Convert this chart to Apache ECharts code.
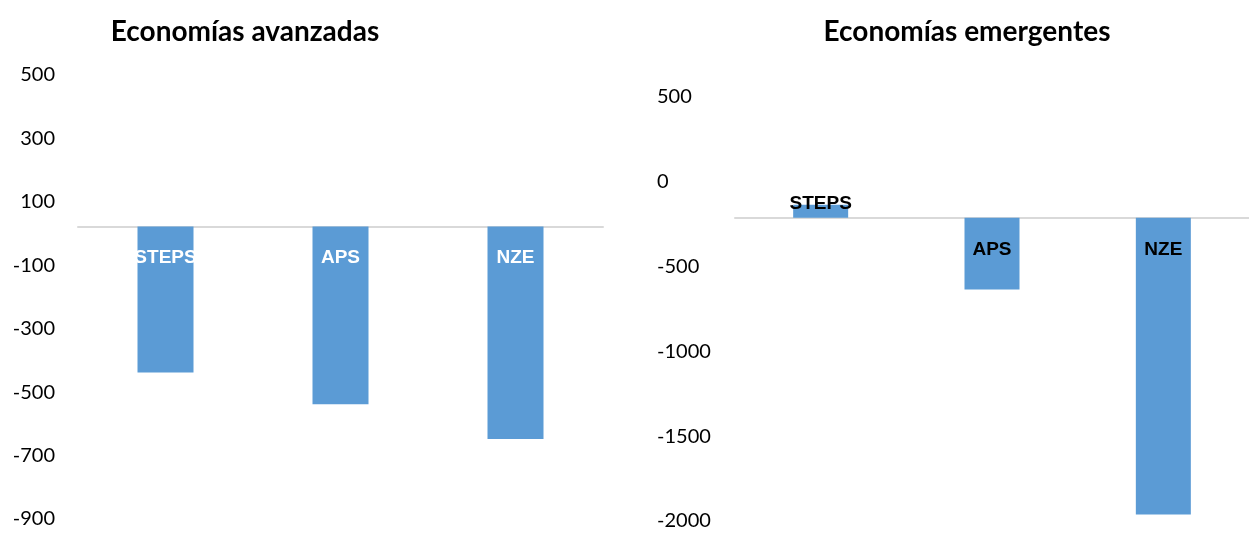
<!DOCTYPE html>
<html>
<head>
<meta charset="utf-8">
<script src="https://cdn.jsdelivr.net/npm/echarts@6/dist/echarts.min.js"></script>
<style>
  html, body { margin: 0; padding: 0; background: #fff; }
  #main { width: 1249px; height: 542px; }
</style>
</head>
<body>
<div id="main"></div>
<script>
// DATA ---------------------------------------------------------------
var categories = ['STEPS', 'APS', 'NZE'];
var advancedValues = [-460, -560, -670];
var emergingValues = [84, -465, -1920];
var advancedTicks = [500, 300, 100, -100, -300, -500, -700, -900];
var emergingTicks = [500, 0, -500, -1000, -1500, -2000];
var titles = ['Economías avanzadas', 'Economías emergentes'];

var BAR_COLOR = '#5b9bd5';
var LABEL_FONT = '"Liberation Sans", Arial, sans-serif';
var AXIS_FONT = 'Lato, "Open Sans", sans-serif';

function tickAxis(gridIndex, ticks, align, margin) {
    return {
        type: 'value',
        gridIndex: gridIndex,
        position: 'left',
        min: Math.min.apply(null, ticks),
        max: Math.max.apply(null, ticks),
        interval: ticks[0] - ticks[1],
        axisLine: { show: false },
        axisTick: { show: false },
        splitLine: { show: false },
        axisLabel: {
            align: align,
            margin: margin,
            color: '#000',
            fontSize: 20,
            fontFamily: AXIS_FONT,
            formatter: function (v) { return String(v); }
        }
    };
}

function barAxis(gridIndex, min, max) {
    return {
        type: 'value',
        gridIndex: gridIndex,
        min: min,
        max: max,
        show: false,
        splitLine: { show: false }
    };
}

function catAxis(gridIndex, zeroAxis) {
    return {
        type: 'category',
        gridIndex: gridIndex,
        data: categories,
        axisTick: { show: false },
        axisLabel: { show: false },
        axisLine: {
            onZero: true,
            onZeroAxisIndex: zeroAxis,
            lineStyle: { color: '#d9d9d9', width: 2 }
        }
    };
}

// positive bars get their label sitting on the bar top
function labelled(values) {
    return values.map(function (v) {
        if (v >= 0) {
            return { value: v, label: { position: 'top', distance: -9 } };
        }
        return v;
    });
}

var chart = echarts.init(document.getElementById('main'));

var titleStyle = { fontSize: 28, fontWeight: 'bold', color: '#000', fontFamily: AXIS_FONT };

var option = {
    animation: false,
    title: [
        { text: titles[0], left: 240, top: 13, textAlign: 'center', textStyle: titleStyle },
        { text: titles[1], left: 962, top: 13, textAlign: 'center', textStyle: titleStyle }
    ],
    grid: [
        { left: 78, top: 75, width: 525, height: 444 },
        { left: 735, top: 97, width: 522, height: 424 }
    ],
    xAxis: [catAxis(0, 1), catAxis(1, 3)],
    yAxis: [
        tickAxis(0, advancedTicks, 'right', 23),
        barAxis(0, -922, 478),
        tickAxis(1, emergingTicks, 'left', 78),
        barAxis(1, -1962, 781)
    ],
    series: [
        {
            type: 'bar',
            xAxisIndex: 0,
            yAxisIndex: 1,
            barWidth: 56,
            itemStyle: { color: BAR_COLOR },
            label: {
                show: true,
                position: 'insideTop',
                distance: 22,
                formatter: '{b}',
                color: '#fff',
                fontSize: 19,
                fontWeight: 'bold',
                fontFamily: LABEL_FONT
            },
            data: labelled(advancedValues)
        },
        {
            type: 'bar',
            xAxisIndex: 1,
            yAxisIndex: 3,
            barWidth: 55,
            itemStyle: { color: BAR_COLOR },
            label: {
                show: true,
                position: 'insideTop',
                distance: 23,
                formatter: '{b}',
                color: '#000',
                fontSize: 19,
                fontWeight: 'bold',
                fontFamily: LABEL_FONT
            },
            data: labelled(emergingValues)
        }
    ]
};

chart.setOption(option);
</script>
</body>
</html>
